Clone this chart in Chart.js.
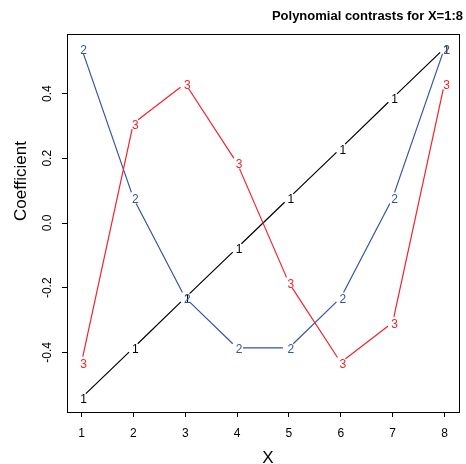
<!DOCTYPE html>
<html>
<head>
<meta charset="utf-8">
<script src="https://cdn.jsdelivr.net/npm/chart.js@4/dist/chart.umd.min.js"></script>
<style>
  html, body { margin: 0; padding: 0; background: #fff; }
  #myChart { display: block; }
</style>
</head>
<body>
<canvas id="myChart" width="466" height="464"></canvas>
<script>
'use strict';

// contrast values (x = 1..8)
const xValues = [1, 2, 3, 4, 5, 6, 7, 8];
const linear = [-0.540, -0.386, -0.231, -0.077, 0.077, 0.231, 0.386, 0.540];
const quadratic = [0.540, 0.077, -0.231, -0.386, -0.386, -0.231, 0.077, 0.540];
const cubic = [-0.431, 0.308, 0.431, 0.185, -0.185, -0.431, -0.308, 0.431];
const seriesLabels = ['1', '2', '3'];
const seriesColors = ['#000000', '#3653a5', '#f0232b'];
const xTicks = [1, 2, 3, 4, 5, 6, 7, 8];
const yTicks = [-0.4, -0.2, 0.0, 0.2, 0.4];

const FONT = 'Liberation Sans, Arial, Helvetica, sans-serif';

const toPoints = vals => vals.map((v, i) => ({ x: xValues[i], y: v }));

const data = {
  datasets: [linear, quadratic, cubic].map((vals, i) => ({
    label: seriesLabels[i],
    data: toPoints(vals),
    showLine: false,
    pointRadius: 0,
    borderColor: seriesColors[i],
    backgroundColor: seriesColors[i]
  }))
};

// R style type="b": broken lines plus the series digit at each point
const digitPoints = {
  id: 'digitPoints',
  afterDatasetsDraw(chart) {
    const { ctx } = chart;
    const gap = 6;
    ctx.save();
    chart.data.datasets.forEach((ds, i) => {
      const pts = chart.getDatasetMeta(i).data;
      ctx.strokeStyle = seriesColors[i];
      ctx.lineWidth = 1.2;
      ctx.beginPath();
      for (let j = 0; j < pts.length - 1; j++) {
        const a = pts[j], b = pts[j + 1];
        const dx = b.x - a.x, dy = b.y - a.y;
        const len = Math.sqrt(dx * dx + dy * dy);
        if (len <= 2 * gap) continue;
        const ux = dx / len, uy = dy / len;
        ctx.moveTo(a.x + ux * gap, a.y + uy * gap);
        ctx.lineTo(b.x - ux * gap, b.y - uy * gap);
      }
      ctx.stroke();
      ctx.fillStyle = seriesColors[i];
      ctx.font = '12px ' + FONT;
      ctx.textAlign = 'center';
      ctx.textBaseline = 'middle';
      pts.forEach(p => ctx.fillText(ds.label, p.x + 2, p.y + 2));
    });
    ctx.restore();
  }
};

// box, title and axis titles placed like the R device
const frame = {
  id: 'frame',
  afterDraw(chart) {
    const { ctx, chartArea: { left, top, right, bottom } } = chart;
    ctx.save();
    ctx.strokeStyle = '#000';
    ctx.lineWidth = 1;
    ctx.strokeRect(Math.round(left) + 0.5, Math.round(top) + 0.5,
      Math.round(right - left), Math.round(bottom - top));

    ctx.fillStyle = '#000';
    ctx.font = 'bold 13px ' + FONT;
    ctx.textAlign = 'right';
    ctx.textBaseline = 'middle';
    ctx.fillText('Polynomial contrasts for X=1:8', 463, 16);

    ctx.font = '17px ' + FONT;
    ctx.textAlign = 'center';
    ctx.fillText('X', 268, 458);

    ctx.translate(21, 181);
    ctx.rotate(-Math.PI / 2);
    ctx.fillText('Coefficient', 0, 0);
    ctx.restore();
  }
};

const config = {
  type: 'scatter',
  data,
  options: {
    responsive: false,
    animation: false,
    layout: { padding: { left: 0, top: 34, right: 7, bottom: 0 } },
    plugins: {
      legend: { display: false },
      tooltip: { enabled: false }
    },
    scales: {
      x: {
        type: 'linear',
        min: 0.72,
        max: 8.28,
        afterBuildTicks: scale => { scale.ticks = xTicks.map(v => ({ value: v })); },
        afterFit: scale => { scale.height = 52; },
        grid: { drawOnChartArea: false, drawTicks: true, tickLength: 5, color: '#000', lineWidth: 1 },
        border: { display: true, color: '#000' },
        ticks: {
          color: '#000',
          padding: 9,
          maxRotation: 0,
          font: { family: FONT, size: 12 },
          callback: v => String(v)
        }
      },
      y: {
        type: 'linear',
        min: -0.584,
        max: 0.584,
        afterBuildTicks: scale => { scale.ticks = yTicks.map(v => ({ value: v })); },
        afterFit: scale => { scale.width = 67; },
        grid: { drawOnChartArea: false, drawTicks: true, tickLength: 5, color: '#000', lineWidth: 1 },
        border: { display: true, color: '#000' },
        ticks: {
          color: '#000',
          minRotation: 90,
          maxRotation: 90,
          crossAlign: 'center',
          padding: 4,
          font: { family: FONT, size: 12 },
          callback: v => v.toFixed(1)
        }
      }
    }
  },
  plugins: [digitPoints, frame]
};

const myChart = new Chart(document.getElementById('myChart'), config);
</script>
</body>
</html>
